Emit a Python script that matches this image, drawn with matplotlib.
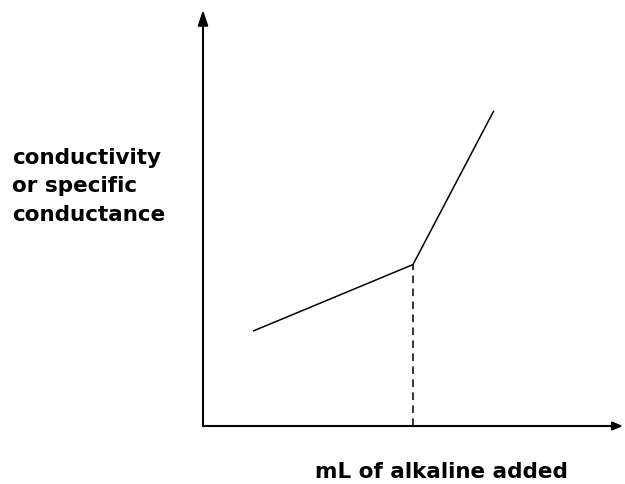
import matplotlib
matplotlib.use("Agg")
import matplotlib.pyplot as plt

# titration curve (schematic): conductivity vs volume of alkaline added
volume_ml = [1.45, 6.0, 8.3]
conductivity = [2.3, 3.9, 7.6]
endpoint_idx = 1

y_label = "conductivity\nor specific\nconductance"
x_label = "mL of alkaline added"

plt.rcParams['font.family'] = ['DejaVu Sans']

fig = plt.figure(figsize=(6.25, 4.84), dpi=100)
ax = fig.add_axes([203 / 625, 58 / 484, 420 / 625, 414 / 484])
ax.set_xlim(0, 12)
ax.set_ylim(0, 10)
ax.axis('off')

# axes drawn as arrows
arrow = dict(arrowstyle='-|>,head_length=0.9,head_width=0.3', lw=1.5, color='black',
             shrinkA=0, shrinkB=0)
ax.annotate('', xy=(0, 1.005), xytext=(0, 0), xycoords='axes fraction',
            arrowprops=arrow, annotation_clip=False)
ax.annotate('', xy=(1, 0), xytext=(0, 0), xycoords='axes fraction',
            arrowprops=dict(arrow, arrowstyle='-|>,head_length=0.6,head_width=0.25'),
            annotation_clip=False)

ax.plot(volume_ml, conductivity, color='black', lw=1.1, solid_joinstyle='miter')
ax.plot([volume_ml[endpoint_idx]] * 2, [0, conductivity[endpoint_idx]],
        color='black', lw=1.1, linestyle=(0, (5, 3.5)))

fig.text(12 / 625, 1 - 148 / 484, y_label, fontsize=15.5, fontweight='bold',
         ha='left', va='top', linespacing=1.52)
fig.text(441 / 625, 1 - 478 / 484, x_label, fontsize=15.5, fontweight='bold',
         ha='center', va='baseline')

fig.savefig('out.png', dpi=100)
